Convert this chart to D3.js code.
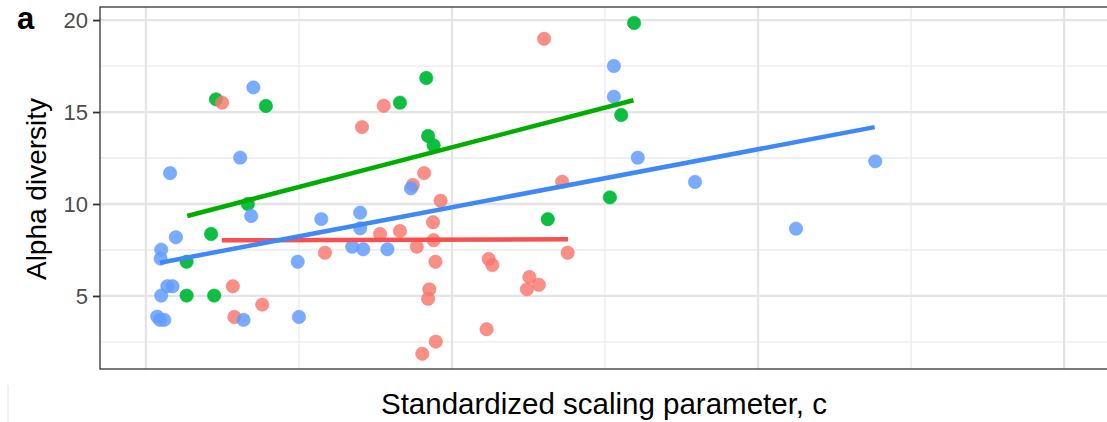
<!DOCTYPE html>
<html><head><meta charset="utf-8">
<script src="https://cdn.jsdelivr.net/npm/d3@7"></script>
<style>body{margin:0;background:#fff;overflow:hidden}</style>
</head><body><svg id="c" width="1107" height="422"></svg>
<script>
// ---- data ----
const yTicks = [5, 10, 15, 20];
const yMinor = [2.5, 7.5, 12.5, 17.5];
const xMajor = [0, 1, 2, 3];
const xMinor = [0.5, 1.5, 2.5];

const redX = [1.301,0.249,0.777,0.706,0.909,1.360,0.872,0.963,0.938,0.765,0.830,0.940,0.885,0.585,1.378,0.946,1.120,1.132,1.253,1.284,1.245,0.284,0.926,0.922,0.380,0.289,1.113,0.947,0.903];
const redY = [18.98,15.51,15.34,14.18,11.68,11.21,11.03,10.18,9.01,8.37,8.53,8.03,7.68,7.35,7.35,6.86,7.01,6.68,6.03,5.61,5.36,5.53,5.36,4.85,4.53,3.86,3.19,2.52,1.86];

const greenX = [1.595,0.916,0.229,0.392,0.830,0.922,0.940,1.553,1.516,0.333,1.313,0.213,0.133,0.133,0.223];
const greenY = [19.84,16.85,15.69,15.33,15.51,13.70,13.19,14.84,10.36,10.00,9.17,8.37,6.86,5.02,5.02];

const blueX = [1.529,0.351,1.529,0.308,1.607,2.383,0.079,1.794,0.866,0.344,0.573,0.700,0.700,2.124,0.098,0.674,0.710,0.789,0.050,0.048,0.496,0.070,0.087,0.050,0.319,0.500,0.037,0.046,0.060];
const blueY = [17.50,16.34,15.83,12.52,12.52,12.32,11.68,11.20,10.85,9.35,9.18,9.53,8.68,8.66,8.19,7.68,7.54,7.54,7.52,7.03,6.86,5.53,5.53,5.02,3.70,3.86,3.88,3.70,3.70];

// fitted lines: [x start, x end], [y start, y end]
const redFitX = [0.248, 1.379], redFitY = [8.03, 8.08];
const greenFitX = [0.135, 1.593], greenFitY = [9.35, 15.64];
const blueFitX = [0.046, 2.381], blueFitY = [6.81, 14.18];

// ---- drawing ----
const svg = d3.select("#c");
const L = 100, R = 1110, T = 7, B = 369;
const x = d3.scaleLinear().domain([-0.15, 3.15]).range([L, R]);
const y = d3.scaleLinear().domain([1.03, 20.71]).range([B, T]);
const FONT = "Liberation Sans, Arial, sans-serif";

const g = svg.append("g");
// grid
g.selectAll(".ymin").data(yMinor).enter().append("line")
  .attr("x1", L).attr("x2", R).attr("y1", d => y(d)).attr("y2", d => y(d))
  .attr("stroke", "#ebebeb").attr("stroke-width", 1.3);
g.selectAll(".xmin").data(xMinor).enter().append("line")
  .attr("y1", T).attr("y2", B).attr("x1", d => x(d)).attr("x2", d => x(d))
  .attr("stroke", "#ebebeb").attr("stroke-width", 1.3);
g.selectAll(".ymaj").data(yTicks).enter().append("line")
  .attr("x1", L).attr("x2", R).attr("y1", d => y(d)).attr("y2", d => y(d))
  .attr("stroke", "#e4e4e4").attr("stroke-width", 2.3);
g.selectAll(".xmaj").data(xMajor).enter().append("line")
  .attr("y1", T).attr("y2", B).attr("x1", d => x(d)).attr("x2", d => x(d))
  .attr("stroke", "#e4e4e4").attr("stroke-width", 2.3);

function pts(xs, ys, col, op) {
  g.append("g").selectAll("circle").data(xs.map((v, i) => [v, ys[i]])).enter()
    .append("circle").attr("cx", d => x(d[0])).attr("cy", d => y(d[1])).attr("r", 6.7)
    .attr("fill", col).attr("fill-opacity", op)
    .attr("stroke", col).attr("stroke-opacity", op * 0.6).attr("stroke-width", 1);
}
pts(greenX, greenY, "#00BA38", 0.95);
pts(redX, redY, "#F8766D", 0.82);
pts(blueX, blueY, "#619CFF", 0.85);

const line = d3.line().x(d => x(d[0])).y(d => y(d[1]));
function fit(xs, ys, col) {
  g.append("path").attr("d", line(xs.map((v, i) => [v, ys[i]])))
    .attr("fill", "none").attr("stroke", col).attr("stroke-width", 4.5);
}
fit(redFitX, redFitY, "#F8504E");
fit(greenFitX, greenFitY, "#00AE00");
fit(blueFitX, blueFitY, "#3F88F8");

// panel border
svg.append("rect").attr("x", L).attr("y", T).attr("width", R - L).attr("height", B - T)
  .attr("fill", "none").attr("stroke", "#333").attr("stroke-width", 1.3);

// y axis
const yAxis = d3.axisLeft(y).tickValues(yTicks).tickSize(7).tickPadding(5);
const ya = svg.append("g").attr("transform", `translate(${L},0)`).call(yAxis);
ya.select(".domain").remove();
ya.selectAll(".tick line").attr("stroke", "#333").attr("stroke-width", 1.8);
ya.selectAll(".tick text").attr("fill", "#4d4d4d")
  .style("font-family", FONT).style("font-size", "22px");

// titles
svg.append("text").attr("x", 604).attr("y", 414).attr("text-anchor", "middle")
  .style("font-family", FONT).style("font-size", "29.5px")
  .attr("fill", "#000").text("Standardized scaling parameter, c");
svg.append("text").attr("transform", "translate(46,189) rotate(-90)").attr("text-anchor", "middle")
  .style("font-family", FONT).style("font-size", "28px")
  .attr("fill", "#000").text("Alpha diversity");
svg.append("text").attr("x", 17).attr("y", 29)
  .style("font-family", FONT).style("font-size", "31px")
  .style("font-weight", "bold").attr("fill", "#000").text("a");

// faint frame edge at bottom-left
svg.append("line").attr("x1", 8).attr("x2", 8).attr("y1", 385).attr("y2", 422)
  .attr("stroke", "#e4e4e4").attr("stroke-width", 1);
</script></body></html>
